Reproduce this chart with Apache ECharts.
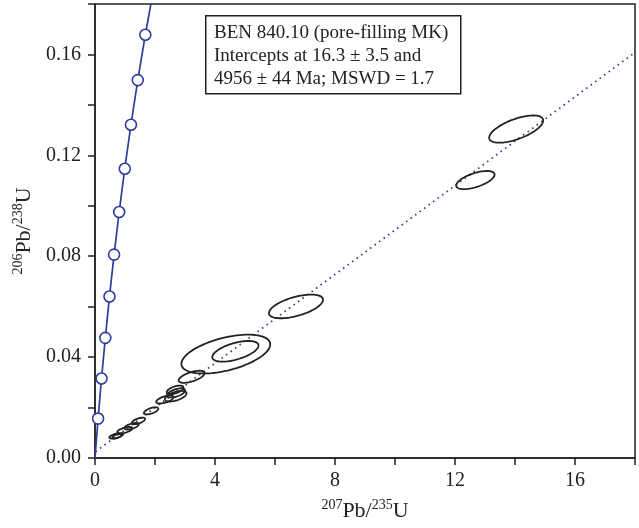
<!DOCTYPE html>
<html>
<head>
<meta charset="utf-8">
<script src="https://cdn.jsdelivr.net/npm/echarts@6/dist/echarts.min.js"></script>
<style>html,body{margin:0;padding:0;background:#fff}#c{width:639px;height:528px}</style>
</head>
<body>
<div id="c"></div>
<script>
// Concordia points (100 Ma steps)
const concX = [0, 0.1035, 0.2177, 0.3437, 0.4828, 0.6362, 0.8056, 0.9925, 1.1988, 1.4263, 1.6774, 1.9545];
const concY = [0, 0.01563, 0.03151, 0.04764, 0.06402, 0.08065, 0.09754, 0.11470, 0.13213, 0.14983, 0.16781, 0.18606];
// Discordia (regression) line end points
const discX = [0.016, 18];
const discY = [0.0025, 0.1608];
// Error ellipses: centre, half-widths, correlation
const ellX   = [0.71, 0.73, 0.99, 1.22, 1.45, 1.87, 2.33, 2.67, 2.70, 2.69, 3.22, 4.36, 4.68, 6.70, 12.68, 14.04];
const ellY   = [0.0088, 0.0086, 0.0110, 0.0126, 0.0147, 0.0187, 0.0232, 0.0270, 0.0258, 0.0245, 0.0322, 0.0412, 0.0423, 0.0601, 0.1102, 0.1304];
const ellSx  = [0.23, 0.15, 0.25, 0.24, 0.22, 0.24, 0.29, 0.28, 0.30, 0.36, 0.43, 1.48, 0.77, 0.90, 0.64, 0.90];
const ellSy  = [0.0011, 0.0009, 0.0013, 0.0013, 0.0013, 0.0014, 0.0016, 0.0017, 0.0018, 0.0021, 0.0024, 0.0077, 0.0041, 0.0047, 0.0036, 0.0054];
const ellRho = [0.6, 0.6, 0.6, 0.6, 0.6, 0.6, 0.6, 0.55, 0.55, 0.55, 0.6, 0.5, 0.56, 0.56, 0.6, 0.63];
// Axis ticks
const xTicks = [0, 4, 8, 12, 16];
const yTicks = [0.00, 0.04, 0.08, 0.12, 0.16];
const infoLines = ['BEN 840.10 (pore-filling MK)', 'Intercepts at 16.3 \u00b1 3.5 and', '4956 \u00b1 44 Ma; MSWD = 1.7'];

const FONT = '"Liberation Serif", "DejaVu Serif", serif';
const BLUE = '#2e3d9a';
const INK = '#222';

const chart = echarts.init(document.getElementById('c'), null, {renderer: 'canvas'});

const ellData = ellX.map((x, i) => [x, ellY[i], ellSx[i], ellSy[i], ellRho[i]]);
const concData = concX.map((x, i) => (i === 0 ? {value: [x, concY[i]], symbol: 'none'} : [x, concY[i]]));

function isTick(v, arr) { return arr.some(t => Math.abs(t - v) < 1e-9); }

const nameRich = {
  n: {fontFamily: FONT, fontSize: 22, color: INK, lineHeight: 24, verticalAlign: 'bottom'},
  s: {fontFamily: FONT, fontSize: 14, color: INK, lineHeight: 14, verticalAlign: 'top'}
};

const option = {
  animation: false,
  backgroundColor: '#fff',
  grid: {left: 95, right: 4, top: 4, bottom: 70, show: true, borderColor: INK, borderWidth: 1.5, containLabel: false},
  xAxis: {
    type: 'value', min: 0, max: 18, interval: 2,
    axisLine: {show: true, onZero: false, lineStyle: {color: INK, width: 1.5}},
    axisTick: {show: true, length: 7, lineStyle: {color: INK, width: 1.5}},
    splitLine: {show: false},
    axisLabel: {
      margin: 13, color: INK, fontFamily: FONT, fontSize: 20,
      formatter: v => isTick(v, xTicks) ? String(v) : ''
    },
    name: '{s|207}{n|Pb/}{s|235}{n|U}',
    nameLocation: 'middle', nameGap: 40,
    nameTextStyle: {fontFamily: FONT, color: INK, rich: nameRich}
  },
  yAxis: {
    type: 'value', min: 0, max: 0.18, interval: 0.02,
    axisLine: {show: true, onZero: false, lineStyle: {color: INK, width: 1.5}},
    axisTick: {show: true, length: 7, lineStyle: {color: INK, width: 1.5}},
    splitLine: {show: false},
    axisLabel: {
      margin: 14, color: INK, fontFamily: FONT, fontSize: 20,
      formatter: v => isTick(v, yTicks) ? v.toFixed(2) : ''
    },
    name: '{s|206}{n|Pb/}{s|238}{n|U}',
    nameLocation: 'middle', nameGap: 56, nameRotate: 90,
    nameTextStyle: {fontFamily: FONT, color: INK, rich: nameRich}
  },
  series: [
    {
      type: 'line', name: 'discordia',
      data: discX.map((x, i) => [x, discY[i]]),
      showSymbol: false, symbol: 'none', silent: true,
      lineStyle: {color: BLUE, width: 1.7, type: [1.6, 4]},
      z: 2
    },
    {
      type: 'custom', name: 'ellipses',
      data: ellData,
      encode: {x: 0, y: 1},
      renderItem: function (params, api) {
        const cx = api.value(0), cy = api.value(1), sx = api.value(2), sy = api.value(3), r = api.value(4);
        const q = Math.sqrt(1 - r * r);
        const pts = [];
        for (let k = 0; k < 90; k++) {
          const t = k / 90 * Math.PI * 2;
          const c = Math.cos(t), s = Math.sin(t);
          pts.push(api.coord([cx + sx * c, cy + sy * (r * c + q * s)]));
        }
        return {type: 'polygon', shape: {points: pts}, style: {fill: 'none', stroke: INK, lineWidth: 1.8}};
      },
      z: 3
    },
    {
      type: 'line', name: 'concordia',
      data: concData,
      symbol: 'circle', symbolSize: 11, showAllSymbol: true,
      itemStyle: {color: '#fff', borderColor: BLUE, borderWidth: 1.6},
      lineStyle: {color: BLUE, width: 1.7},
      clip: true,
      z: 4
    }
  ],
  graphic: [
    {type: 'rect', left: 205, top: 15, shape: {width: 255, height: 78}, style: {fill: '#fff', stroke: INK, lineWidth: 1.5}, z: 10},
    {type: 'text', left: 214, top: 22, style: {text: infoLines.join('\n'), font: '19px ' + FONT, fill: INK, lineHeight: 23}, z: 11}
  ]
};
chart.setOption(option);
</script>
</body>
</html>
